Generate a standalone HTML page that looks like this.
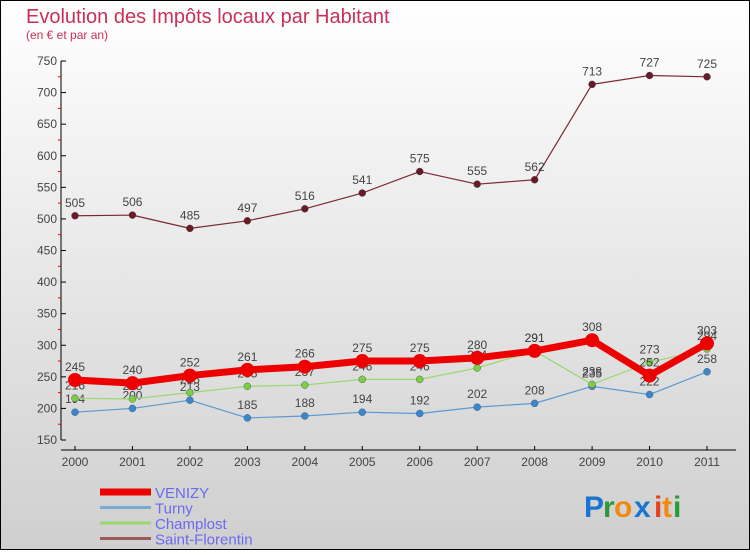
<!DOCTYPE html>
<html><head><meta charset="utf-8"><style>
html,body{margin:0;padding:0}
body{width:750px;height:550px;overflow:hidden;font-family:"Liberation Sans",sans-serif}
</style></head><body>
<svg width="750" height="550" xmlns="http://www.w3.org/2000/svg" id="svg">
<defs><linearGradient id="bg" x1="0" y1="0" x2="0" y2="1"><stop offset="0" stop-color="#ffffff"/><stop offset="1" stop-color="#cfcfcf"/></linearGradient></defs>
<rect x="0.5" y="0.5" width="749" height="549" fill="url(#bg)" stroke="#000" stroke-width="1"/>
<text x="26" y="23" font-size="20" fill="#c8305a">Evolution des Impôts locaux par Habitant</text>
<text x="26" y="39" font-size="12" fill="#c8305a">(en € et par an)</text>
<g id="axes"></g><g id="series"></g><g id="legend"></g>
<g font-size="30" font-family="Liberation Sans, sans-serif" font-weight="bold">
<text x="584" y="517" fill="#1a74d0">P</text><text x="603" y="517" fill="#2a9a3a">r</text><text x="614" y="517" fill="#f08a10">o</text><text x="634" y="517" fill="#1a74d0">x</text><text x="654" y="517" fill="#e8401a">i</text><text x="662" y="517" fill="#f08a10">t</text><text x="673" y="517" fill="#2a9a3a">i</text>
</g>
</svg>
<script>
const years=["2000","2001","2002","2003","2004","2005","2006","2007","2008","2009","2010","2011"];
const yTicks=[150,200,250,300,350,400,450,500,550,600,650,700,750];
const venizy=[245,240,252,261,266,275,275,280,291,308,252,303];
const turny=[194,200,213,185,188,194,192,202,208,235,222,258];
const champlost=[216,215,225,235,237,246,246,264,291,238,273,294];
const stflorentin=[505,506,485,497,516,541,575,555,562,713,727,725];
const NS="http://www.w3.org/2000/svg";
const x=i=>75+i*(707-75)/11;
const y=v=>440-(v-150)*(440-61)/600;
function el(t,a,p){const e=document.createElementNS(NS,t);for(const k in a)e.setAttribute(k,a[k]);p.appendChild(e);return e;}
const ax=document.getElementById('axes');
const yl=el('line',{x1:61,y1:61,x2:61,y2:440,stroke:'#000'},ax);


const xl=el('line',{x1:61,y1:450,x2:736,y2:450,stroke:'#000'},ax);


yTicks.forEach((v,i)=>{
 el('line',{x1:61,y1:y(v),x2:66,y2:y(v),stroke:'#000'},ax);
 if(i<yTicks.length-1) el('line',{x1:58,y1:y(v+25),x2:61,y2:y(v+25),stroke:'#e00'},ax);
 const t=el('text',{x:57,y:y(v)+4,'font-size':12,'text-anchor':'end',fill:'#444'},ax);
 
 
 t.textContent=v;
});
years.forEach((yr,i)=>{
 el('line',{x1:x(i),y1:446,x2:x(i),y2:450,stroke:'#000'},ax);
 const t=el('text',{x:x(i),y:466,'font-size':12,'text-anchor':'middle',fill:'#444'},ax);
 
 
 t.textContent=yr;
});
const sg=document.getElementById('series');
const series=[
 {n:'saint-florentin',d:stflorentin,c:'#7a2a30',w:1.2,r:3.5,f:'#6a1a22'},
 {n:'turny',d:turny,c:'#5a9ad0',w:1.2,r:3.5,f:'#3a88cc'},
 {n:'champlost',d:champlost,c:'#9ad870',w:1.2,r:3.5,f:'#7ad040'},
 {n:'venizy',d:venizy,c:'#ee0000',w:7,r:7,f:'#ee0000'}];
series.forEach(s=>{
 const g=el('g',{},sg);
 
 
 const p=el('polyline',{points:s.d.map((v,i)=>x(i)+','+y(v)).join(' '),fill:'none',stroke:s.c,'stroke-width':s.w,'stroke-linejoin':'round'},g);
 
 
 s.d.forEach((v,i)=>{
  const c=el('circle',{cx:x(i),cy:y(v),r:s.r,fill:s.f,stroke:s.n=='venizy'?'none':'#446','stroke-width':0.4},g);
  
  
  const t=el('text',{x:x(i),y:y(v)-9,'font-size':12,'text-anchor':'middle',fill:'#444'},g);
  
  
  t.textContent=v;
 });
});
const lg=document.getElementById('legend');
[['VENIZY','#ee0000',7],['Turny','#7aaad0',3],['Champlost','#9ad870',3],['Saint-Florentin','#9a5a5a',3]].forEach((e,i)=>{
 const yy=492+i*15.5;
 const g=el('g',{},lg);
 
 
 el('line',{x1:100,y1:yy,x2:151,y2:yy,stroke:e[1],'stroke-width':e[2]},g);
 const t=el('text',{x:155,y:yy+6,'font-size':15,fill:'#6a6af0'},g);
 t.textContent=e[0];
});
</script>
</body></html>
